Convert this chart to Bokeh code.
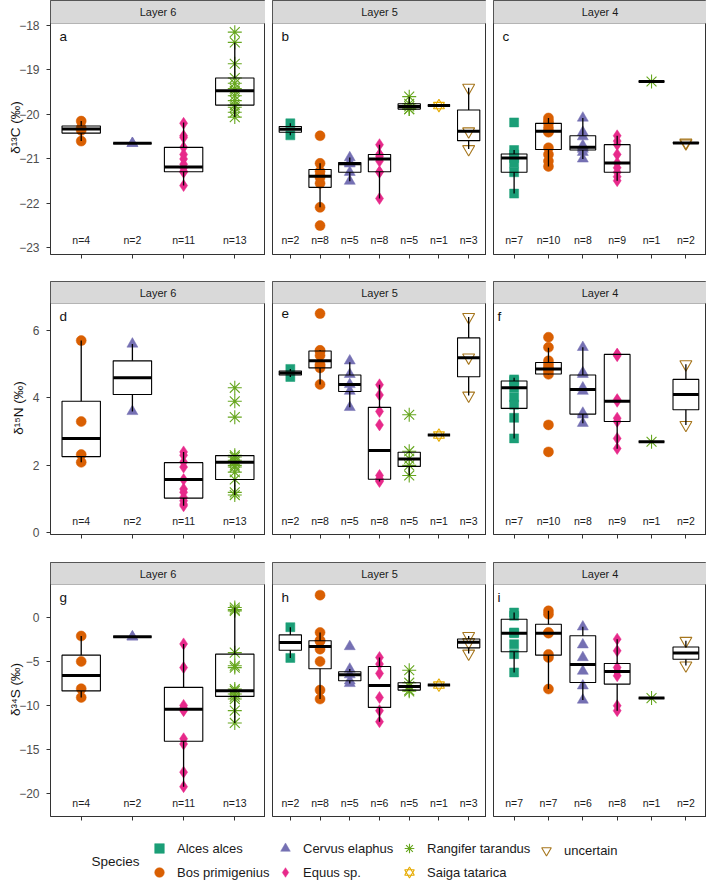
from bokeh.plotting import figure
from bokeh.layouts import column, row
from bokeh.models import (ColumnDataSource, Range1d, FixedTicker, BoxAnnotation,
                          Label, Legend, LegendItem, CustomLabelingPolicy)
from bokeh.core.properties import value
from bokeh.embed import file_html
from bokeh.resources import INLINE

FONT = "Liberation Sans"

# ---------------------------------------------------------------- data
SPECIES = ["Alces alces", "Bos primigenius", "Cervus elaphus", "Equus sp.",
           "Rangifer tarandus", "Saiga tatarica", "uncertain"]
SPECIES_COLORS = ["#1B9E77", "#D95F02", "#7570B3", "#E7298A",
                  "#66A61E", "#E6AB02", "#A6761D"]

LAYERS = ["Layer 6", "Layer 5", "Layer 4"]
LAYER6_SPECIES = ["Bos primigenius", "Cervus elaphus", "Equus sp.", "Rangifer tarandus"]
LAYER5_SPECIES = ["Alces alces", "Bos primigenius", "Cervus elaphus", "Equus sp.",
                  "Rangifer tarandus", "Saiga tatarica", "uncertain"]
LAYER4_SPECIES = ["Alces alces", "Bos primigenius", "Cervus elaphus", "Equus sp.",
                  "Rangifer tarandus", "uncertain"]

ISOTOPE_LABELS = ["δ¹³C (‰)", "δ¹⁵N (‰)", "δ³⁴S (‰)"]
C13_TICKS = [-23, -22, -21, -20, -19, -18]
N15_TICKS = [0, 2, 4, 6]
S34_TICKS = [-20, -15, -10, -5, 0]
PANEL_LETTERS = ["a", "b", "c", "d", "e", "f", "g", "h", "i"]

# box statistics: (lower whisker, Q1, median, Q3, upper whisker)
# ---- delta 13C
C13_L6_N = [4, 2, 11, 13]
C13_L6_STATS = [(-20.6, -20.42, -20.33, -20.26, -20.15),
                (-20.65, -20.65, -20.65, -20.65, -20.65),
                (-21.6, -21.29, -21.18, -20.74, -20.18),
                (-20.06, -19.79, -19.47, -19.18, -18.38)]
C13_L6_POINTS = [[-20.15, -20.3, -20.36, -20.6],
                 [-20.65, -20.65],
                 [-20.2, -20.48, -20.52, -20.74, -20.9, -21.0, -21.12, -21.2, -21.28, -21.3, -21.6],
                 [-18.15, -18.38, -18.86, -19.18, -19.3, -19.42, -19.47, -19.58, -19.69,
                  -19.79, -19.84, -19.95, -20.06]]

C13_L5_N = [2, 8, 5, 8, 5, 1, 3]
C13_L5_STATS = [(-20.47, -20.4, -20.335, -20.27, -20.2),
                (-22.09, -21.64, -21.39, -21.24, -21.1),
                (-21.5, -21.3, -21.11, -21.08, -20.97),
                (-21.89, -21.29, -21.0, -20.9, -20.68),
                (-19.88, -19.88, -19.82, -19.76, -19.6),
                (-19.8, -19.8, -19.8, -19.8, -19.8),
                (-20.78, -20.59, -20.38, -19.9, -19.4)]
C13_L5_POINTS = [[-20.2, -20.47],
                 [-20.48, -21.1, -21.28, -21.38, -21.42, -21.55, -22.09, -22.5],
                 [-20.97, -21.08, -21.11, -21.3, -21.5],
                 [-20.68, -20.9, -20.9, -20.95, -21.05, -21.29, -21.3, -21.89],
                 [-19.6, -19.76, -19.82, -19.88, -19.88],
                 [-19.8],
                 [-19.4, -20.38, -20.78]]

C13_L4_N = [7, 10, 8, 9, 1, 2]
C13_L4_STATS = [(-21.78, -21.3, -20.98, -20.89, -20.8),
                (-21.17, -20.79, -20.38, -20.2, -20.08),
                (-21.0, -20.8, -20.74, -20.48, -20.08),
                (-21.49, -21.3, -21.09, -20.68, -20.48),
                (-19.26, -19.26, -19.26, -19.26, -19.26),
                (-20.65, -20.645, -20.64, -20.635, -20.63)]
C13_L4_POINTS = [[-20.18, -20.8, -20.9, -20.98, -21.1, -21.3, -21.78],
                 [-20.08, -20.15, -20.2, -20.3, -20.38, -20.4, -20.75, -20.9, -21.05, -21.17],
                 [-20.08, -20.4, -20.5, -20.7, -20.74, -20.78, -20.85, -21.0],
                 [-20.48, -20.6, -20.68, -20.9, -21.09, -21.2, -21.3, -21.4, -21.49],
                 [-19.26],
                 [-20.63, -20.65]]

# ---- delta 15N
N15_L6_N = [4, 2, 11, 13]
N15_L6_STATS = [(2.09, 2.26, 2.8, 3.9, 5.7),
                (3.6, 4.1, 4.6, 5.1, 5.6),
                (0.8, 1.03, 1.58, 2.08, 2.4),
                (1.12, 1.58, 2.09, 2.29, 2.3)]
N15_L6_POINTS = [[5.7, 3.3, 2.32, 2.09],
                 [5.6, 3.6],
                 [2.4, 2.3, 2.1, 1.95, 1.58, 1.3, 1.2, 1.05, 0.95, 0.85, 0.8],
                 [4.3, 3.9, 3.43, 2.3, 2.25, 2.15, 2.09, 2.0, 1.95, 1.8, 1.58, 1.2, 1.12]]

N15_L5_N = [2, 8, 5, 8, 5, 1, 3]
N15_L5_STATS = [(4.62, 4.68, 4.74, 4.8, 4.86),
                (4.4, 4.89, 5.1, 5.39, 5.41),
                (3.72, 4.19, 4.4, 4.68, 5.06),
                (1.52, 1.59, 2.44, 3.72, 4.39),
                (1.7, 1.97, 2.19, 2.39, 2.42),
                (2.9, 2.9, 2.9, 2.9, 2.9),
                (4.07, 4.63, 5.19, 5.78, 6.4)]
N15_L5_POINTS = [[4.86, 4.62],
                 [6.5, 5.41, 5.39, 5.26, 5.0, 4.95, 4.89, 4.4],
                 [5.1, 4.7, 4.4, 4.2, 3.72],
                 [4.39, 4.09, 3.6, 3.2, 1.7, 1.6, 1.55, 1.52],
                 [3.5, 2.42, 2.2, 2.0, 1.7],
                 [2.9],
                 [6.4, 5.2, 4.07]]

N15_L4_N = [7, 10, 8, 9, 1, 2]
N15_L4_STATS = [(2.8, 3.69, 4.3, 4.5, 4.6),
                (4.7, 4.71, 4.86, 5.05, 5.49),
                (3.25, 3.52, 4.25, 4.68, 5.5),
                (2.49, 3.3, 3.9, 5.29, 5.3),
                (2.7, 2.7, 2.7, 2.7, 2.7),
                (3.2, 3.65, 4.1, 4.55, 5.0)]
N15_L4_POINTS = [[4.55, 4.5, 4.3, 4.02, 3.8, 3.41, 2.8],
                 [5.8, 5.5, 5.1, 5.0, 4.9, 4.86, 4.8, 4.7, 3.2, 2.4],
                 [5.5, 4.75, 4.7, 4.3, 4.2, 3.55, 3.5, 3.25],
                 [5.3, 5.28, 5.25, 3.95, 3.9, 3.4, 3.3, 2.8, 2.5],
                 [2.7],
                 [5.0, 3.2]]

# ---- delta 34S
S34_L6_N = [4, 2, 11, 13]
S34_L6_STATS = [(-9.1, -8.35, -6.6, -4.28, -2.1),
                (-2.2, -2.2, -2.2, -2.2, -2.2),
                (-19.25, -14.09, -10.45, -7.95, -3.0),
                (-12.0, -8.98, -8.33, -4.17, 1.14)]
S34_L6_POINTS = [[-2.1, -5.0, -8.1, -9.1],
                 [-2.2, -2.2],
                 [-3.0, -5.7, -10.0, -10.3, -10.45, -10.6, -13.8, -14.4, -17.6, -19.25, -10.45],
                 [1.14, 0.9, 0.76, -4.0, -5.49, -5.7, -8.14, -8.33, -8.71, -9.0, -9.28, -10.6, -12.0]]

S34_L5_N = [2, 8, 5, 6, 5, 1, 3]
S34_L5_STATS = [(-4.6, -3.73, -2.85, -1.98, -1.1),
                (-9.28, -5.83, -3.3, -2.65, -1.7),
                (-7.5, -7.2, -6.52, -6.17, -5.87),
                (-11.86, -10.23, -7.73, -5.57, -4.55),
                (-8.4, -8.26, -7.84, -7.42, -6.0),
                (-7.69, -7.69, -7.69, -7.69, -7.69),
                (-4.1, -3.45, -2.8, -2.45, -2.1)]
S34_L5_POINTS = [[-1.1, -4.6],
                 [2.55, -1.7, -2.6, -2.7, -3.6, -5.0, -8.26, -9.28],
                 [-3.3, -5.87, -6.5, -7.2, -7.5],
                 [-4.55, -5.3, -6.36, -9.1, -10.6, -11.86],
                 [-6.0, -7.42, -7.84, -8.26, -8.4],
                 [-7.69],
                 [-2.1, -2.8, -4.1]]

S34_L4_N = [7, 7, 6, 8, 1, 2]
S34_L4_STATS = [(-6.25, -3.9, -1.78, -0.19, 0.57),
                (-8.14, -4.28, -1.78, -0.76, 0.76),
                (-9.39, -7.39, -5.34, -2.08, -1.06),
                (-10.6, -7.58, -6.14, -5.23, -2.46),
                (-9.17, -9.17, -9.17, -9.17, -9.17),
                (-5.45, -4.75, -4.05, -3.35, -2.65)]
S34_L4_POINTS = [[0.57, 0.2, -1.7, -1.78, -3.03, -4.17, -6.25],
                 [0.76, 0.38, -1.7, -1.78, -4.2, -4.55, -8.14],
                 [-1.06, -3.1, -4.55, -6.1, -7.77, -9.39],
                 [-2.46, -3.79, -5.68, -6.14, -6.14, -6.63, -10.04, -10.6],
                 [-9.17],
                 [-2.65, -5.45]]

# ---------------------------------------------------------------- layout / style
Y_LIMITS = [(-23.15, -17.955), (-0.05, 6.8), (-22.65, 3.76)]
Y_TICKS = [C13_TICKS, N15_TICKS, S34_TICKS]
N_LABEL_Y = [-22.83, 0.345, -21.1]
PANEL_H = [231, 231, 232]
STRIP_H = [23, 22, 22]
FRAME_W = [215, 214, 213]
LEFT_BORDER = [50, 7, 7]
BOTTOM_BORDER = [27, 28, 8]
YLABEL_STANDOFF = [-7, 4, -7]
LETTER_DX = [[9, 9, 9], [9, 9, 4], [9, 9, 4]]
BOX_HALF = 0.375
GREY20 = "#333333"

MARKER_STYLE = {
    "Alces alces": [("square", 9, True)],
    "Bos primigenius": [("circle", 10, True)],
    "Cervus elaphus": [("triangle", 11, True)],
    "Equus sp.": [("diamond", 12, True)],
    "Rangifer tarandus": [("asterisk", 14, False)],
    "Saiga tatarica": [("triangle", 11, False), ("inverted_triangle", 11, False)],
    "uncertain": [("inverted_triangle", 12, False)],
}

HIDE_ALL_LABELS = CustomLabelingPolicy(code="""
    for (const i of indices)
        indices.unset(i)
    return indices
""")


def draw_markers(p, xs, ys, sp):
    color = SPECIES_COLORS[SPECIES.index(sp)]
    rs = []
    for marker, size, filled in MARKER_STYLE[sp]:
        if filled:
            r = p.scatter(x=xs, y=ys, marker=marker, size=size, fill_color=color,
                          line_color=color, line_width=0.5)
        else:
            r = p.scatter(x=xs, y=ys, marker=marker, size=size, fill_color=None,
                          line_color=color, line_width=1.1)
        rs.append(r)
    return rs


def make_panel(ri, ci, species, ns, stats, points):
    ylo, yhi = Y_LIMITS[ri]
    upp = (yhi - ylo) / PANEL_H[ri]
    ytop = yhi + STRIP_H[ri] * upp
    ncat = len(species)
    xlo, xhi = 0.4, ncat + 0.6
    xpp = (xhi - xlo) / FRAME_W[ci]
    p = figure(frame_width=FRAME_W[ci], frame_height=PANEL_H[ri] + STRIP_H[ri],
               x_range=Range1d(xlo, xhi), y_range=Range1d(ylo, ytop),
               toolbar_location=None, output_backend="svg",
               y_axis_location="left" if ci == 0 else None,
               min_border_left=LEFT_BORDER[ci], min_border_right=0,
               min_border_top=0, min_border_bottom=BOTTOM_BORDER[ri])
    p.xgrid.visible = False
    p.ygrid.visible = False
    p.outline_line_color = GREY20
    p.outline_line_width = 1
    p.background_fill_color = "white"
    p.border_fill_color = "white"

    xa = p.xaxis[0]
    xa.ticker = FixedTicker(ticks=list(range(1, ncat + 1)))
    xa.major_label_policy = HIDE_ALL_LABELS
    xa.major_label_text_font_size = "1px"
    xa.major_label_text_color = None
    xa.major_label_standoff = 0
    xa.major_tick_out = 4
    xa.major_tick_in = 0
    xa.minor_tick_out = 0
    xa.minor_tick_in = 0
    xa.axis_line_color = GREY20
    xa.major_tick_line_color = GREY20

    if ci == 0:
        ya = p.yaxis[0]
        ya.ticker = FixedTicker(ticks=Y_TICKS[ri])
        ya.axis_line_color = None
        ya.major_tick_out = 4
        ya.major_tick_in = 0
        ya.minor_tick_out = 0
        ya.minor_tick_in = 0
        ya.major_tick_line_color = GREY20
        ya.major_label_text_font = FONT
        ya.major_label_text_font_size = "12px"
        ya.major_label_text_color = "#4D4D4D"
        ya.major_label_standoff = 7
        ya.axis_label = ISOTOPE_LABELS[ri]
        ya.axis_label_text_font = FONT
        ya.axis_label_text_font_size = "13.5px"
        ya.axis_label_text_font_style = "normal"
        ya.axis_label_text_color = "#111111"
        ya.axis_label_standoff = YLABEL_STANDOFF[ri]

    # points
    for i, sp in enumerate(species):
        ys = points[i]
        draw_markers(p, [i + 1] * len(ys), ys, sp)

    # boxes
    xs = [i + 1 for i in range(ncat)]
    src = ColumnDataSource(dict(
        x=xs,
        left=[x - BOX_HALF for x in xs], right=[x + BOX_HALF for x in xs],
        lo=[s[0] for s in stats], q1=[s[1] for s in stats], med=[s[2] for s in stats],
        q3=[s[3] for s in stats], hi=[s[4] for s in stats]))
    p.segment(x0="x", y0="q3", x1="x", y1="hi", source=src, line_color="black", line_width=1.3)
    p.segment(x0="x", y0="q1", x1="x", y1="lo", source=src, line_color="black", line_width=1.3)
    p.quad(left="left", right="right", bottom="q1", top="q3", source=src,
           fill_color=None, line_color="black", line_width=1.1)
    p.segment(x0="left", y0="med", x1="right", y1="med", source=src,
              line_color="black", line_width=3)

    # n labels
    p.text(x=xs, y=[N_LABEL_Y[ri]] * ncat, text=[f"n={n}" for n in ns],
           text_font=value(FONT), text_font_size=value("10.5px"), text_color="#1A1A1A",
           text_align="center", text_baseline="middle")

    # strip
    p.add_layout(BoxAnnotation(left=xlo, right=xhi, bottom=yhi, top=ytop,
                               fill_color="#D9D9D9", fill_alpha=1,
                               line_color=GREY20, line_width=1))
    p.add_layout(Label(x=(xlo + xhi) / 2, y=(yhi + ytop) / 2, text=LAYERS[ci],
                       text_font=FONT, text_font_size="11px", text_color="#1A1A1A",
                       text_align="center", text_baseline="middle"))
    # panel letter
    p.add_layout(Label(x=xlo + LETTER_DX[ri][ci] * xpp, y=yhi - 5 * upp,
                       text=PANEL_LETTERS[ri * 3 + ci],
                       text_font=FONT, text_font_size="13.5px", text_color="#111111",
                       text_align="left", text_baseline="top"))
    return p


LAYER_SPECIES = [LAYER6_SPECIES, LAYER5_SPECIES, LAYER4_SPECIES]
PANEL_DATA = [
    [(C13_L6_N, C13_L6_STATS, C13_L6_POINTS), (C13_L5_N, C13_L5_STATS, C13_L5_POINTS),
     (C13_L4_N, C13_L4_STATS, C13_L4_POINTS)],
    [(N15_L6_N, N15_L6_STATS, N15_L6_POINTS), (N15_L5_N, N15_L5_STATS, N15_L5_POINTS),
     (N15_L4_N, N15_L4_STATS, N15_L4_POINTS)],
    [(S34_L6_N, S34_L6_STATS, S34_L6_POINTS), (S34_L5_N, S34_L5_STATS, S34_L5_POINTS),
     (S34_L4_N, S34_L4_STATS, S34_L4_POINTS)],
]

rows = []
for ri in range(3):
    figs = []
    for ci in range(3):
        ns, st, pts = PANEL_DATA[ri][ci]
        figs.append(make_panel(ri, ci, LAYER_SPECIES[ci], ns, st, pts))
    rows.append(row(*figs))

# ---------------------------------------------------------------- legend
LEG_W, LEG_H = 706, 60
LEGEND_COLUMNS = [["Alces alces", "Bos primigenius"], ["Cervus elaphus", "Equus sp."],
                  ["Rangifer tarandus", "Saiga tatarica"], ["uncertain"]]
LEGEND_COL_X = [147, 273, 397, 534]
GLYPH = 24
ROW_GAP = -2

lf = figure(frame_width=LEG_W, frame_height=LEG_H, x_range=Range1d(0, LEG_W),
            y_range=Range1d(0, LEG_H), toolbar_location=None, output_backend="svg",
            x_axis_location=None, y_axis_location=None, min_border=0,
            outline_line_color=None)
lf.xgrid.visible = False
lf.ygrid.visible = False
for col_species, lx in zip(LEGEND_COLUMNS, LEGEND_COL_X):
    items = []
    for sp in col_species:
        rs = draw_markers(lf, [-100], [-100], sp)   # off-canvas, legend swatch only
        items.append(LegendItem(label=sp, renderers=rs))
    ly = (2 - len(col_species)) * (GLYPH + ROW_GAP)
    lg = Legend(items=items, location=(lx, ly), orientation="vertical",
                glyph_width=GLYPH, glyph_height=GLYPH, label_height=14, label_standoff=6,
                spacing=ROW_GAP, padding=0, margin=0, border_line_color=None,
                background_fill_alpha=0, label_text_font=FONT,
                label_text_font_size="13px", label_text_color="#1A1A1A")
    lf.add_layout(lg)
lf.add_layout(Label(x=91, y=23, text="Species", text_font=FONT, text_font_size="13.5px",
                    text_color="#1A1A1A", text_align="left", text_baseline="middle"))

layout = column(*rows, lf)
open("out.html", "w").write(file_html(layout, INLINE))
